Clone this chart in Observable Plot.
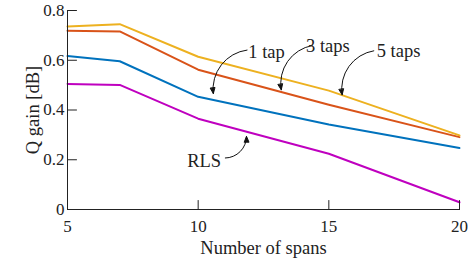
<!DOCTYPE html>
<html>
<head>
<meta charset="utf-8">
<script src="https://cdn.jsdelivr.net/npm/d3@7"></script>
<script src="https://cdn.jsdelivr.net/npm/@observablehq/plot@0.6"></script>
<style>
  html, body { margin: 0; padding: 0; background: #fff; }
  #chart svg { display: block; }
</style>
</head>
<body>
<div id="chart"></div>
<script>
// ---- data ----
const spans = [5, 7, 10, 15, 20];
const rls   = [0.505, 0.501, 0.365, 0.224, 0.029];
const tap1  = [0.617, 0.596, 0.453, 0.342, 0.247];
const taps3 = [0.719, 0.716, 0.562, 0.421, 0.291];
const taps5 = [0.736, 0.745, 0.614, 0.478, 0.298];
const seriesNames  = ["RLS", "1 tap", "3 taps", "5 taps"];
const seriesValues = [rls, tap1, taps3, taps5];
const seriesColors = ["#BF00BF", "#0072BD", "#D95319", "#EDB120"];
const xTicks = [5, 10, 15, 20];
const yTicks = [0, 0.2, 0.4, 0.6, 0.8];

// annotations (data units)
const labelNames = ["1 tap", "3 taps", "5 taps", "RLS"];
const labelX     = [11.92, 14.13, 16.83, 9.58];
const labelY     = [0.632, 0.657, 0.636, 0.196];
const arrowX1    = [11.87, 14.36, 16.72, 11.04];
const arrowY1    = [0.641, 0.659, 0.638, 0.207];
const arrowX2    = [10.58, 13.18, 15.51, 11.85];
const arrowY2    = [0.466, 0.481, 0.461, 0.294];

const rows = seriesNames.flatMap((name, s) =>
  spans.map((x, i) => ({series: name, x, y: seriesValues[s][i]})));
const labels = labelNames.map((t, i) => ({t, x: labelX[i], y: labelY[i]}));
const arrows = labelNames.map((t, i) => ({x1: arrowX1[i], y1: arrowY1[i], x2: arrowX2[i], y2: arrowY2[i]}));

const font = "'Liberation Serif', 'Times New Roman', serif";
const ink = "#222";
const tickShape = {draw(context, l) { context.moveTo(0, 0); context.lineTo(0, -l); }};

const svg = Plot.plot({
  width: 473,
  height: 264,
  marginLeft: 67,
  marginRight: 14,
  marginTop: 10,
  marginBottom: 55,
  style: {fontFamily: font, fontSize: "16px", background: "#fff", color: ink},
  x: {domain: [5, 20]},
  y: {domain: [0, 0.8]},
  color: {domain: seriesNames, range: seriesColors},
  marks: [
    Plot.line(rows, {x: "x", y: "y", z: "series", stroke: "series", strokeWidth: 2}),
    Plot.frame({anchor: "left", stroke: ink}),
    Plot.frame({anchor: "bottom", stroke: ink}),
    // inward ticks
    Plot.vector(yTicks, {y: d => d, frameAnchor: "left", length: 9, rotate: 90, anchor: "start",
      shape: tickShape, stroke: ink, strokeWidth: 1}),
    Plot.vector(xTicks, {x: d => d, frameAnchor: "bottom", length: 9, rotate: 0, anchor: "start",
      shape: tickShape, stroke: ink, strokeWidth: 1}),
    Plot.axisY({ticks: yTicks, tickFormat: d => String(d), tickSize: 0, tickPadding: 3,
      label: "Q gain [dB]", labelAnchor: "center", labelArrow: "none", labelOffset: 42,
      fontSize: 17, fontFamily: font, fill: ink}),
    Plot.axisX({ticks: xTicks, tickFormat: d => String(d), tickSize: 0, tickPadding: 10,
      label: "Number of spans", labelAnchor: "center", labelArrow: "none", labelOffset: 44,
      fontSize: 17, fontFamily: font, fill: ink}),
    Plot.arrow(arrows, {x1: "x1", y1: "y1", x2: "x2", y2: "y2", bend: -45,
      stroke: "#111", strokeWidth: 1, headLength: 9, headAngle: 45}),
    Plot.text(labels, {x: "x", y: "y", text: "t", textAnchor: "start", fontSize: 18.5, fontFamily: font, fill: ink})
  ]
});

document.getElementById("chart").appendChild(svg);

// axis label font size
d3.select(svg).selectAll("g[aria-label='x-axis label'], g[aria-label='y-axis label']")
  .attr("font-size", 18.5).attr("font-family", font);

// make arrow heads filled
d3.select(svg).selectAll("g[aria-label='arrow'] path").each(function () {
  const d = this.getAttribute("d");
  const idx = d.indexOf("M", 1);
  if (idx < 0) return;
  this.setAttribute("d", d.slice(0, idx));
  this.setAttribute("fill", "none");
  const head = document.createElementNS("http://www.w3.org/2000/svg", "path");
  head.setAttribute("d", d.slice(idx) + "Z");
  head.setAttribute("fill", "#111");
  head.setAttribute("stroke", "#111");
  head.setAttribute("stroke-width", "1");
  this.parentNode.appendChild(head);
});
</script>
</body>
</html>
